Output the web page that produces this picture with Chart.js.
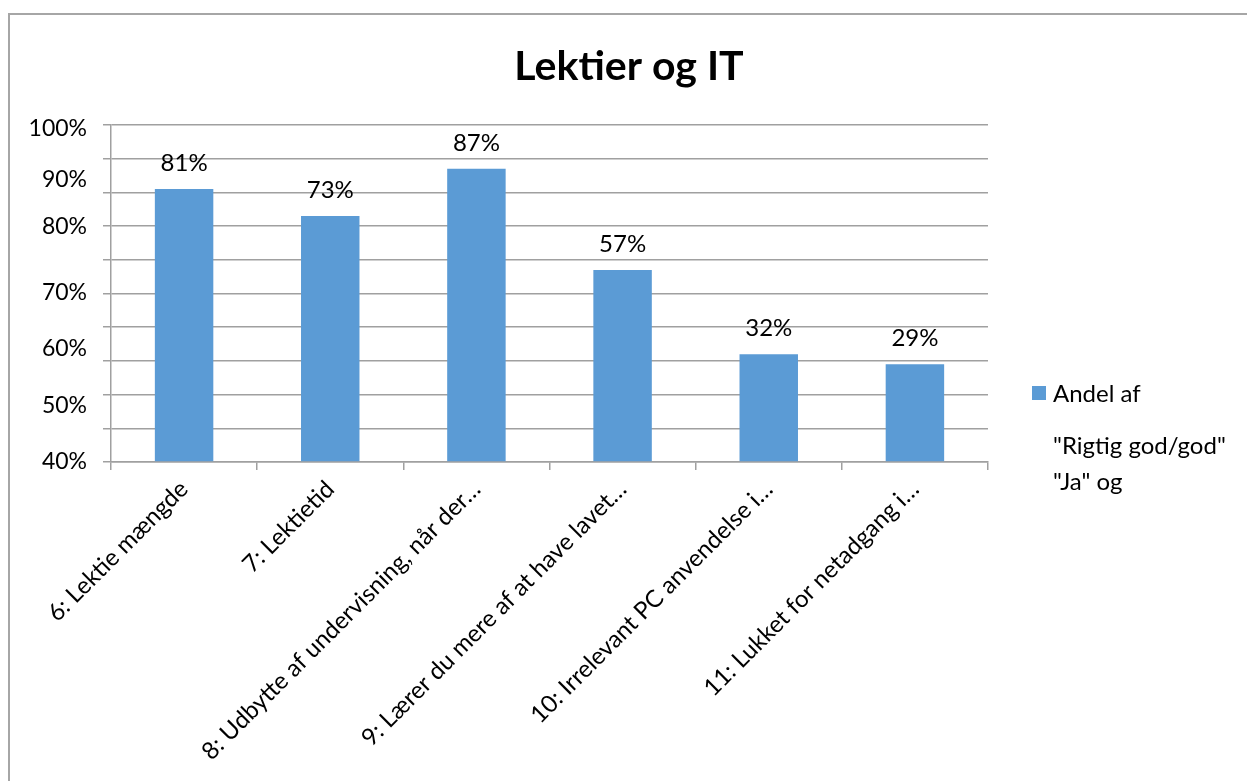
<!DOCTYPE html>
<html lang="da">

<head>
    <meta charset="UTF-8">
    <title>Lektier og IT</title>
    <script src="https://cdn.jsdelivr.net/npm/chart.js"></script>
    <style>
        body {
            margin: 0;
            background: #fff;
        }

        .wrap {
            position: relative;
            width: 1247px;
            height: 781px;
            overflow: hidden;
        }

        .frame {
            position: absolute;
            left: 8px;
            top: 13px;
            width: 1400px;
            height: 900px;
            border-left: 2px solid #a6a6a6;
            border-top: 2px solid #a6a6a6;
        }

        canvas {
            position: absolute;
            left: 0;
            top: 0;
        }
    </style>
</head>

<body>
    <div class="wrap">
        <div class="frame"></div>
        <canvas id="chart" width="1247" height="781"></canvas>
    </div>

    <script>
        const categories = [
            '6: Lektie mængde',
            '7: Lektietid',
            '8: Udbytte af undervisning, når der…',
            '9: Lærer du mere af at have lavet…',
            '10: Irrelevant PC anvendelse i…',
            '11: Lukket for netadgang i…'
        ];
        const values = [0.81, 0.73, 0.87, 0.57, 0.32, 0.29];

        // gridlines sit on tenths, but the printed labels sit somewhere else
        const gridValues = [0, 0.1, 0.2, 0.3, 0.4, 0.5, 0.6, 0.7, 0.8, 0.9, 1];
        const yTickLabels = ['40%', '50%', '60%', '70%', '80%', '90%', '100%'];
        const yTickPositions = [0, 0.168, 0.338, 0.502, 0.698, 0.837, 0.99];

        const legendLines = ['Andel af', '"Rigtig god/god"', '"Ja" og'];

        const barColor = '#5b9bd5';
        const gridColor = '#a0a0a0';
        const font = 'Lato';

        const near = (a, b) => Math.abs(a - b) < 1e-6;
        const isGrid = v => gridValues.some(g => near(g, v));
        const labelFor = v => {
            const i = yTickPositions.findIndex(p => near(p, v));
            return i >= 0 ? yTickLabels[i] : '';
        };

        const barLabels = {
            id: 'barLabels',
            afterDatasetsDraw(chart) {
                const ctx = chart.ctx;
                const meta = chart.getDatasetMeta(0);
                ctx.save();
                ctx.font = `24px ${font}`;
                ctx.fillStyle = '#000';
                ctx.textAlign = 'center';
                ctx.textBaseline = 'middle';
                meta.data.forEach((bar, i) => {
                    ctx.fillText(Math.round(values[i] * 100) + '%', bar.x, bar.y - 26);
                });
                ctx.restore();
            }
        };

        const sideLegend = {
            id: 'sideLegend',
            afterDraw(chart) {
                const ctx = chart.ctx;
                const area = chart.chartArea;
                const x = area.right + 44;
                ctx.save();
                ctx.fillStyle = barColor;
                ctx.fillRect(x, area.top + 261, 14, 14);
                ctx.font = `24px ${font}`;
                ctx.fillStyle = '#000';
                ctx.textBaseline = 'middle';
                ctx.fillText(legendLines[0], x + 21, area.top + 269);
                ctx.fillText(legendLines[1], x + 21, area.top + 321.5);
                ctx.fillText(legendLines[2], x + 21, area.top + 357.5);
                ctx.restore();
            }
        };

        new Chart(document.getElementById('chart'), {
            type: 'bar',
            data: {
                labels: categories,
                datasets: [{
                    label: legendLines.join(' '),
                    data: values,
                    backgroundColor: barColor,
                    barPercentage: 0.4,
                    categoryPercentage: 1
                }]
            },
            options: {
                responsive: false,
                animation: false,
                layout: { padding: { left: 11 } },
                plugins: {
                    legend: { display: false },
                    tooltip: { enabled: false },
                    title: {
                        display: true,
                        text: 'Lektier og IT',
                        color: '#000',
                        font: { family: font, size: 41, weight: 'bold', lineHeight: 1.2 },
                        padding: { top: 42.5, bottom: 33.3 }
                    }
                },
                scales: {
                    x: {
                        grid: {
                            drawOnChartArea: false,
                            color: gridColor,
                            lineWidth: 1.5,
                            tickLength: 8
                        },
                        border: { color: gridColor, width: 1.5 },
                        ticks: {
                            color: '#000',
                            font: { family: font, size: 24 },
                            padding: 5,
                            minRotation: 45,
                            maxRotation: 45,
                            autoSkip: false
                        },
                        afterFit(scale) { scale.height = 319; }
                    },
                    y: {
                        min: 0,
                        max: 1,
                        afterBuildTicks(scale) {
                            const vals = gridValues.slice();
                            yTickPositions.forEach(p => { if (!vals.some(v => near(v, p))) vals.push(p); });
                            vals.sort((a, b) => a - b);
                            scale.ticks = vals.map(v => ({ value: v }));
                        },
                        grid: {
                            color: ctx => (ctx.tick && isGrid(ctx.tick.value)) ? gridColor : 'rgba(0,0,0,0)',
                            lineWidth: 1.5,
                            tickLength: 8
                        },
                        border: { color: gridColor, width: 1.5 },
                        ticks: {
                            autoSkip: false,
                            color: '#000',
                            padding: 16,
                            font: { family: font, size: 23 },
                            callback: v => labelFor(v)
                        },
                        afterFit(scale) { scale.width = 100; }
                    },
                    side: {
                        position: 'right',
                        display: true,
                        grid: { display: false, drawTicks: false },
                        border: { display: false },
                        ticks: { display: false },
                        afterFit(scale) { scale.width = 259; }
                    }
                }
            },
            plugins: [barLabels, sideLegend]
        });
    </script>
</body>

</html>
